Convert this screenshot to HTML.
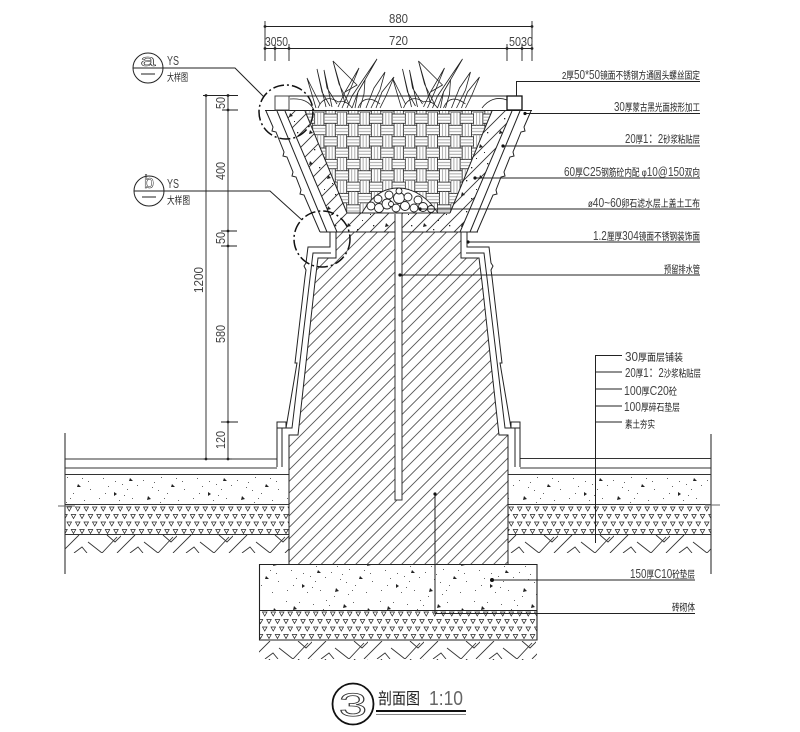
<!DOCTYPE html>
<html><head><meta charset="utf-8"><style>
html,body{margin:0;padding:0;background:#fff}
svg{display:block}
text{font-family:"Liberation Sans","Noto Sans CJK SC",sans-serif;fill:#333}
.c{font-size:10px;fill:#222}
.d{font-size:13px;fill:#444}
</style></head><body>
<svg width="800" height="732" viewBox="0 0 800 732" xmlns="http://www.w3.org/2000/svg">
<defs>
<pattern id="hatch" patternUnits="userSpaceOnUse" width="11.5" height="11.5"><path d="M-1 12.5L12.5-1M-1 1L1-1M10.5 12.5L12.5 10.5" stroke="#555" stroke-width=".9" fill="none"/></pattern>
<pattern id="hatch2" patternUnits="userSpaceOnUse" width="14" height="14"><path d="M-1 15L15-1M-1 1L1-1M13 15L15 13" stroke="#333" stroke-width=".9" fill="none"/></pattern>
<pattern id="weave" patternUnits="userSpaceOnUse" x="337.3" y="112" width="22.7" height="22.7">
<g fill="none" stroke="#222" stroke-width=".8">
<rect x="0" y="0" width="9.35" height="13.35" fill="#fff"/>
<rect x="9.35" y="2" width="13.35" height="9.35" fill="#fff"/>
<rect x="11.35" y="11.35" width="9.35" height="13.35" fill="#fff"/>
<rect x="11.35" y="-11.35" width="9.35" height="13.35" fill="#fff"/>
<rect x="20.7" y="13.35" width="13.35" height="9.35" fill="#fff"/>
<rect x="-2" y="13.35" width="13.35" height="9.35" fill="#fff"/>
</g>
<path d="M3.1 0V13.35M6.2 0V13.35M14.45 11.35V22.7M17.55 11.35V22.7M14.45 0V2M17.55 0V2M9.35 5.1H22.7M9.35 8.2H22.7M20.7 16.45H22.7M20.7 19.55H22.7M0 16.45H11.35M0 19.55H11.35" stroke="#999" stroke-width=".8" fill="none"/>
</pattern>
<pattern id="tri" patternUnits="userSpaceOnUse" x="65" y="506" width="8.5" height="15">
<path d="M2 1H6.5L4.25 5ZM-2.25 8.5H2.25L0 12.5ZM6.25 8.5H10.75L8.5 12.5Z" fill="#fff" stroke="#222" stroke-width=".7"/>
</pattern>
<pattern id="conc" patternUnits="userSpaceOnUse" width="94" height="46">
<g fill="#222">
<path d="M12 8l3 3-4 1zM36 18l3 3-4 0zM62 6l3 3-4 1zM78 24l3 3-4 0zM20 32l3 2-3 2zM54 36l3 3-4 1zM86 10l3 3-4 1z"/>
<g fill="#666">
<rect x="4" y="3" width="1" height="1"/><rect x="9" y="18" width="1" height="1"/><rect x="17" y="4" width="1" height="1"/><rect x="24" y="12" width="1" height="1"/><rect x="28" y="24" width="1" height="1"/><rect x="31" y="6" width="1" height="1"/><rect x="41" y="11" width="1" height="1"/><rect x="44" y="2" width="1" height="1"/><rect x="49" y="20" width="1" height="1"/><rect x="55" y="14" width="1" height="1"/><rect x="58" y="27" width="1" height="1"/><rect x="67" y="17" width="1" height="1"/><rect x="71" y="4" width="1" height="1"/><rect x="73" y="33" width="1" height="1"/><rect x="82" y="18" width="1" height="1"/><rect x="90" y="29" width="1" height="1"/><rect x="14" y="26" width="1" height="1"/><rect x="25" y="40" width="1" height="1"/><rect x="38" y="38" width="1" height="1"/><rect x="66" y="42" width="1" height="1"/><rect x="84" y="40" width="1" height="1"/><rect x="5" y="38" width="1" height="1"/><rect x="52" y="44" width="1" height="1"/><rect x="33" y="29" width="1" height="1"/><rect x="76" y="12" width="1" height="1"/><rect x="60" y="22" width="1" height="1"/>
<rect x="8" y="12" width="1" height="1"/><rect x="21" y="21" width="1" height="1"/><rect x="34" y="14" width="1" height="1"/><rect x="47" y="7" width="1" height="1"/><rect x="64" y="30" width="1" height="1"/><rect x="88" y="21" width="1" height="1"/><rect x="30" y="35" width="1" height="1"/><rect x="11" y="33" width="1" height="1"/><rect x="43" y="25" width="1" height="1"/><rect x="70" y="38" width="1" height="1"/>
</g></g>
</pattern>
<pattern id="dots2" patternUnits="userSpaceOnUse" width="38" height="31">
<g fill="#222"><path d="M6 6l3 3-4 1zM24 20l3 3-4 1z"/><rect x="15" y="12" width="1.3" height="1.3"/><rect x="31" y="8" width="1.3" height="1.3"/><rect x="10" y="25" width="1.3" height="1.3"/><rect x="28" y="28" width="1" height="1"/><rect x="20" y="3" width="1" height="1"/></g>
</pattern>
<g id="etile"><path d="M-4 18L14 0M9 18L17 12L22 18M23 7L37 18L52 2M42 0L50 7L57 0M52 18L70 0" stroke="#333" stroke-width=".9" fill="none"/></g>
<pattern id="earth" patternUnits="userSpaceOnUse" x="65" y="535" width="56" height="18"><use href="#etile"/></pattern>
<pattern id="earth2" patternUnits="userSpaceOnUse" x="256" y="641" width="56" height="18"><use href="#etile"/></pattern>
<pattern id="earth3" patternUnits="userSpaceOnUse" x="558" y="535" width="56" height="18"><use href="#etile"/></pattern>
<g id="half" fill="none" stroke="#222" stroke-width="1">
<path d="M266 111L273 127L272 131L276 132L284 152L283 156L287 157L293 172L292 176L296 177L301 190L300 194L304 195L320 232"/>
<path d="M277 111L327 232M285 111L337 232M305 111L347 213"/>
<path d="M330 232V247H308L306 263L304 266L306 270L305 277L295 363L297 363L286 428V422H277V467"/>
<path d="M336 232V258H318L315 282L298 435H289V564"/>
<path d="M331 253H313L310 278L292 428H282V467"/>
<path d="M277 428H292"/>
</g>
<g id="leaves" fill="#fff" stroke="#222" stroke-width=".8" stroke-linejoin="miter">
<path d="M316 108L307 78L320 104"/>
<path d="M326 107L317 69L322 92L330 106"/>
<path d="M332 107L324 70L327 88L337 104"/>
<path d="M345 103L333 61L339 84L349 104" fill="none"/>
<path d="M333 61L357 85L345 92" fill="none"/>
<path d="M338 107L345 92L359 68L350 90L342 108" fill="none"/>
<path d="M347 108L352 96L377 59L358 92L352 108" fill="none"/>
<path d="M355 108L358 92L365 80L364 94L360 108"/>
<path d="M366 108L374 88L385 72L380 90L371 108"/>
<path d="M376 108L382 92L394 77L386 96L380 108"/>
<path d="M318 108C322 98 330 96 338 102C342 100 348 102 352 108" fill="none" stroke-width=".8"/>
<path d="M358 108C362 98 370 96 380 104" fill="none" stroke-width=".8"/>
</g>
</defs>
<rect width="800" height="732" fill="#fff"/>

<!-- top dims -->
<g stroke="#222" stroke-width=".9" fill="none">
<path d="M265 26.5H532M265 48.5H532"/>
<path d="M265 21V61M275 44V61M289 44V61M507 44V61M522 44V61M532 21V61"/>
</g>
<g fill="#222"><circle cx="265" cy="26.5" r="1.4"/><circle cx="532" cy="26.5" r="1.4"/><circle cx="265" cy="48.5" r="1.4"/><circle cx="275" cy="48.5" r="1.4"/><circle cx="289" cy="48.5" r="1.4"/><circle cx="507" cy="48.5" r="1.4"/><circle cx="522" cy="48.5" r="1.4"/><circle cx="532" cy="48.5" r="1.4"/></g>
<text class="d" x="389" y="23" textLength="19" lengthAdjust="spacingAndGlyphs">880</text>
<text class="d" x="389" y="45" textLength="19" lengthAdjust="spacingAndGlyphs">720</text>
<text class="d" x="265" y="46" textLength="23" lengthAdjust="spacingAndGlyphs">3050</text>
<text class="d" x="509" y="46" textLength="24" lengthAdjust="spacingAndGlyphs">5030</text>

<!-- plants -->
<use href="#leaves"/>
<use href="#leaves" transform="translate(85.5,0)"/>
<path d="M290 99C303 98 310 102 314 110M507 100C497 96 488 100 482 108" fill="none" stroke="#222" stroke-width=".8"/>

<!-- ground left+right -->
<path d="M65 474H289V504H65Z" fill="url(#conc)"/>
<path d="M508 474H711V504H508Z" fill="url(#conc)"/>
<path d="M65 505H289V534H65Z" fill="url(#tri)"/>
<path d="M508 505H711V534H508Z" fill="url(#tri)"/>
<path d="M65 535H289V553H65Z" fill="url(#earth)"/>
<path d="M508 535H711V553H508Z" fill="url(#earth3)"/>
<g fill="none" stroke="#333" stroke-width="1.1">
<path d="M65 433V574M711 434V574"/>
<path d="M65 459H277M65 468H277M65 474.5H289M65 504.5H289M65 534.5H289"/>
<path d="M520 458.5H711M520 468H711M508 474.5H711M508 504.5H711M508 534.5H711"/>
<path d="M58 506H75M705 505H720" stroke="#666"/>
</g>

<!-- foundation -->
<path d="M259 564H537V610H259Z" fill="url(#conc)"/>
<path d="M259 611H537V640H259Z" fill="url(#tri)"/>
<path d="M259 641H537V660H259Z" fill="url(#earth2)"/>
<path d="M259.5 564.5H537V640H259.5ZM259 610.5H537" fill="none" stroke="#222" stroke-width="1.1"/>

<!-- column hatch -->
<path d="M336 232V258H318L315 282L298 435H289V564H508V435H499L482 282L479 258H461V232Z" fill="url(#hatch)"/>

<!-- concrete -->
<path d="M285 111H305L347 213H450L492 111H512L460 232H337Z" fill="url(#hatch2)"/>
<path d="M285 111H305L347 213H450L492 111H512L460 232H337Z" fill="url(#dots2)"/>

<!-- basket -->
<path d="M305 111H492L450 213H347Z" fill="url(#weave)"/>

<!-- structure lines -->
<use href="#half"/>
<use href="#half" transform="translate(797,0) scale(-1,1)"/>
<g fill="none" stroke="#222" stroke-width="1">
<path d="M265 110.5H532M289 96H507M320 232H478M347 213H450"/>
</g>
<rect x="275" y="96" width="14" height="14" fill="#fff" stroke="#444" stroke-width="1"/>
<rect x="507" y="96" width="15" height="14" fill="#fff" stroke="#111" stroke-width="1.3"/>

<!-- gravel mound -->
<path d="M362 213C372 195 385 188 398 188C414 188 428 198 438 213Z" fill="#fff" stroke="#222" stroke-width=".9"/>
<g fill="#fff" stroke="#222" stroke-width=".9">
<circle cx="371" cy="206" r="4"/><circle cx="379" cy="208" r="4.5"/><circle cx="387" cy="204" r="5"/><circle cx="396" cy="208" r="4"/><circle cx="405" cy="206" r="4.5"/><circle cx="414" cy="208" r="4"/><circle cx="423" cy="207" r="4.5"/><circle cx="431" cy="209" r="3.5"/>
<circle cx="378" cy="199" r="4"/><circle cx="389" cy="195" r="4"/><circle cx="399" cy="198" r="5.5"/><circle cx="408" cy="197" r="4"/><circle cx="418" cy="200" r="4"/><circle cx="399" cy="191" r="3"/><circle cx="391" cy="204" r="2.5"/>
</g>

<!-- pipe -->
<rect x="395" y="214" width="7" height="286" fill="#fff"/>
<path d="M395 214V500H402V214" fill="none" stroke="#333" stroke-width="1"/>

<!-- left dim -->
<g stroke="#222" stroke-width=".9" fill="none">
<path d="M206 95V459M228 95V459"/>
<path d="M203 95.5H238M222 110H238M221 231H237M221 246H237M221 422H238M203 459H232"/>
</g>
<g fill="#222"><circle cx="206" cy="95.5" r="1.4"/><circle cx="228" cy="95.5" r="1.4"/><circle cx="228" cy="110" r="1.4"/><circle cx="228" cy="231" r="1.4"/><circle cx="228" cy="246" r="1.4"/><circle cx="228" cy="422" r="1.4"/><circle cx="206" cy="459" r="1.4"/><circle cx="228" cy="459" r="1.4"/></g>
<text class="d" transform="translate(225,109) rotate(-90)" textLength="12" lengthAdjust="spacingAndGlyphs">50</text>
<text class="d" transform="translate(225,180) rotate(-90)" textLength="18" lengthAdjust="spacingAndGlyphs">400</text>
<text class="d" transform="translate(225,244) rotate(-90)" textLength="12" lengthAdjust="spacingAndGlyphs">50</text>
<text class="d" transform="translate(225,343) rotate(-90)" textLength="18" lengthAdjust="spacingAndGlyphs">580</text>
<text class="d" transform="translate(225,449) rotate(-90)" textLength="18" lengthAdjust="spacingAndGlyphs">120</text>
<text class="d" transform="translate(203,293) rotate(-90)" textLength="26" lengthAdjust="spacingAndGlyphs">1200</text>

<!-- bubbles -->
<g fill="none" stroke="#222" stroke-width="1">
<circle cx="148" cy="68" r="15"/><circle cx="149" cy="191" r="15"/>
<path d="M133 68H235L264 97M134 191H270L302 220"/>
<path d="M141 74H155M142 197H156"/>
</g>
<circle cx="286" cy="112" r="27" fill="none" stroke="#111" stroke-width="1.5" stroke-dasharray="11 3 2 3"/>
<circle cx="322" cy="239" r="28" fill="none" stroke="#111" stroke-width="1.5" stroke-dasharray="11 3 2 3"/>
<text x="148" y="66" text-anchor="middle" style="font-size:17px;fill:none;stroke:#222;stroke-width:.5" textLength="15" lengthAdjust="spacingAndGlyphs">a</text>
<text x="149" y="188" text-anchor="middle" style="font-size:18px;fill:none;stroke:#222;stroke-width:.5">b</text>
<text class="d" x="167" y="65" textLength="12" lengthAdjust="spacingAndGlyphs">YS</text>
<text class="d" x="167" y="188" textLength="12" lengthAdjust="spacingAndGlyphs">YS</text>
<text class="c" x="167" y="81" textLength="21" lengthAdjust="spacingAndGlyphs">大样图</text>
<text class="c" x="167" y="204" textLength="23" lengthAdjust="spacingAndGlyphs">大样图</text>

<!-- right leaders -->
<g stroke="#222" stroke-width="1" fill="none">
<path d="M516.5 96V81.5H700M525 113.5H700M503 146H700M475 178H700M420 209H700M468 242H700M400 275H700"/>
<path d="M595.5 355V543M595 355.5H622M595 372H622M595 389H622M595 406H622M595 422H622"/>
<path d="M492 580H695M435 494V613.5H695"/>
</g>
<g fill="#111"><circle cx="525" cy="113.5" r="1.6"/><circle cx="503" cy="146" r="1.6"/><circle cx="475" cy="178" r="1.6"/><circle cx="420" cy="209" r="1.6"/><circle cx="468" cy="242" r="1.6"/><circle cx="400" cy="275" r="1.6"/><circle cx="492" cy="580" r="2"/><circle cx="435" cy="494" r="1.6"/></g>

<text class="c" x="562" y="79" textLength="138" lengthAdjust="spacingAndGlyphs">2厚<tspan class="d">50*50</tspan>镜面不锈钢方通圆头螺丝固定</text>
<text class="c" x="614" y="111" textLength="86" lengthAdjust="spacingAndGlyphs"><tspan class="d">30</tspan>厚蒙古黑光面按形加工</text>
<text class="c" x="625" y="143" textLength="75" lengthAdjust="spacingAndGlyphs"><tspan class="d">20</tspan>厚<tspan class="d">1：2</tspan>砂浆粘贴层</text>
<text class="c" x="564" y="176" textLength="136" lengthAdjust="spacingAndGlyphs"><tspan class="d">60</tspan>厚<tspan class="d">C25</tspan>钢筋砼内配 φ<tspan class="d">10@150</tspan>双向</text>
<text class="c" x="588" y="207" textLength="112" lengthAdjust="spacingAndGlyphs">ø<tspan class="d">40~60</tspan>卵石滤水层上盖土工布</text>
<text class="c" x="593" y="240" textLength="107" lengthAdjust="spacingAndGlyphs"><tspan class="d">1.2</tspan>厘厚<tspan class="d">304</tspan>镜面不锈钢装饰面</text>
<text class="c" x="664" y="273" textLength="36" lengthAdjust="spacingAndGlyphs">预留排水管</text>

<text class="c" x="625" y="361" textLength="58" lengthAdjust="spacingAndGlyphs"><tspan class="d">30</tspan>厚面层铺装</text>
<text class="c" x="625" y="377" textLength="76" lengthAdjust="spacingAndGlyphs"><tspan class="d">20</tspan>厚<tspan class="d">1：2</tspan>沙浆粘贴层</text>
<text class="c" x="624" y="395" textLength="53" lengthAdjust="spacingAndGlyphs"><tspan class="d">100</tspan>厚<tspan class="d">C20</tspan>砼</text>
<text class="c" x="624" y="411" textLength="56" lengthAdjust="spacingAndGlyphs"><tspan class="d">100</tspan>厚碎石垫层</text>
<text class="c" x="625" y="428" textLength="30" lengthAdjust="spacingAndGlyphs">素土夯实</text>
<text class="c" x="630" y="578" textLength="65" lengthAdjust="spacingAndGlyphs"><tspan class="d">150</tspan>厚<tspan class="d">C10</tspan>砼垫层</text>
<text class="c" x="672" y="611" textLength="23" lengthAdjust="spacingAndGlyphs">砖砌体</text>

<!-- title -->
<circle cx="353" cy="704" r="20.5" fill="none" stroke="#111" stroke-width="1.8"/>
<text x="353" y="716" text-anchor="middle" style="font-size:32px;fill:#fff;stroke:#333;stroke-width:.8" textLength="28" lengthAdjust="spacingAndGlyphs">3</text>
<text x="378" y="704" style="font-size:16px;fill:#222" textLength="42" lengthAdjust="spacingAndGlyphs">剖面图</text>
<text x="429" y="705" style="font-size:20px;fill:#666" textLength="34" lengthAdjust="spacingAndGlyphs">1:10</text>
<path d="M376 711H466" stroke="#111" stroke-width="2"/>
<path d="M376 714.5H466" stroke="#888" stroke-width="1"/>
</svg>
</body></html>
